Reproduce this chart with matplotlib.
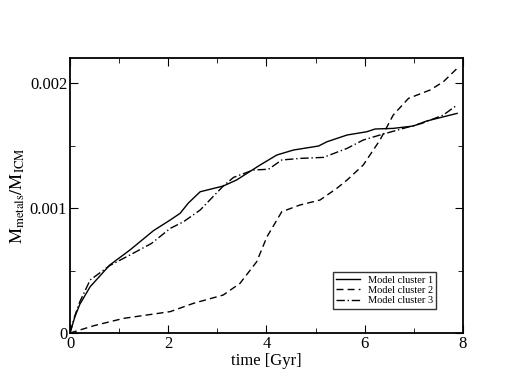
import numpy as np
import matplotlib
matplotlib.use("Agg")
import matplotlib.pyplot as plt
from matplotlib.ticker import MultipleLocator

plt.rcParams['font.family'] = ['Liberation Serif', 'DejaVu Serif']
plt.rcParams['mathtext.fontset'] = 'stix'

# metal mass fraction vs time
t1 = [0.0, 0.1, 0.2, 0.41, 0.81, 1.22, 1.70, 2.04, 2.24, 2.41, 2.65, 3.12, 3.39,
      3.87, 4.21, 4.55, 5.06, 5.23, 5.64, 6.04, 6.21, 6.58, 6.99, 7.26, 7.88]
m1 = [0.0, 0.00013, 0.00023, 0.00037, 0.000544, 0.000664, 0.000819, 0.000904,
      0.000957, 0.00104, 0.00113, 0.001176, 0.001224, 0.001344, 0.001424,
      0.001464, 0.001496, 0.00153, 0.001584, 0.00161, 0.001632, 0.001637,
      0.001656, 0.001696, 0.001757]

t2 = [0.0, 0.5, 1.09, 2.04, 2.51, 3.12, 3.46, 3.80, 4.01, 4.31, 4.68, 5.09,
      5.43, 5.64, 5.97, 6.31, 6.58, 6.89, 7.33, 7.60, 7.88]
m2 = [0.0, 0.00006, 0.000117, 0.000171, 0.000237, 0.000304, 0.000397, 0.00057,
      0.00077, 0.00097, 0.001024, 0.001064, 0.001157, 0.001224, 0.001344,
      0.001544, 0.001744, 0.001877, 0.001944, 0.00201, 0.002117]

t3 = [0.0, 0.1, 0.2, 0.41, 0.81, 1.22, 1.66, 2.04, 2.31, 2.65, 3.12, 3.33, 3.73,
      4.04, 4.31, 4.68, 5.16, 5.64, 5.97, 6.31, 6.86, 7.16, 7.60, 7.88]
m3 = [0.0, 0.00014, 0.00025, 0.000424, 0.00054, 0.000624, 0.000717, 0.000837,
      0.00089, 0.000984, 0.001176, 0.001245, 0.001304, 0.00131, 0.001384,
      0.001397, 0.001405, 0.001477, 0.001544, 0.001584, 0.001645, 0.001677,
      0.001744, 0.001824]

labels = ['Model cluster 1', 'Model cluster 2', 'Model cluster 3']

fig = plt.figure(figsize=(5.08, 3.92), dpi=100)
ax = fig.add_axes([0.1378, 0.1505, 0.7736, 0.7015])

ax.plot(t1, m1, c='k', lw=1.0, ls='-', label=labels[0])
ax.plot(t2, m2, c='k', lw=1.0, ls=(0, (5, 3)), label=labels[1])
ax.plot(t3, m3, c='k', lw=1.0, ls=(0, (6, 2, 1, 2)), label=labels[2])

ax.set_xlim(0, 8)
ax.set_ylim(0, 0.0022)
ax.xaxis.set_minor_locator(MultipleLocator(1))
ax.yaxis.set_minor_locator(MultipleLocator(0.0005))
ax.set_xticks([0, 2, 4, 6, 8])
ax.set_xticklabels(['0', '2', '4', '6', '8'])
ax.set_yticks([0, 0.001, 0.002])
ax.set_yticklabels(['0', '0.001', '0.002'])
ax.tick_params(which='both', direction='in', top=True, right=True,
               labelsize=12, pad=2)
ax.tick_params(which='major', length=6)
ax.tick_params(which='minor', length=3.5)
for s in ax.spines.values():
    s.set_linewidth(1.3)

ax.set_xlabel('time [Gyr]', fontsize=12, labelpad=1)
ax.set_ylabel(r'$\mathrm{M_{metals}/M_{ICM}}$', fontsize=13, labelpad=2)

leg = ax.legend(loc='lower right', bbox_to_anchor=(0.945, 0.07), fontsize=7.5,
                frameon=True, fancybox=False, edgecolor='k', handlelength=2.3,
                borderpad=0.3, labelspacing=0.1, handletextpad=0.8)
leg.get_frame().set_linewidth(1.0)

fig.savefig('out.png', dpi=100)
